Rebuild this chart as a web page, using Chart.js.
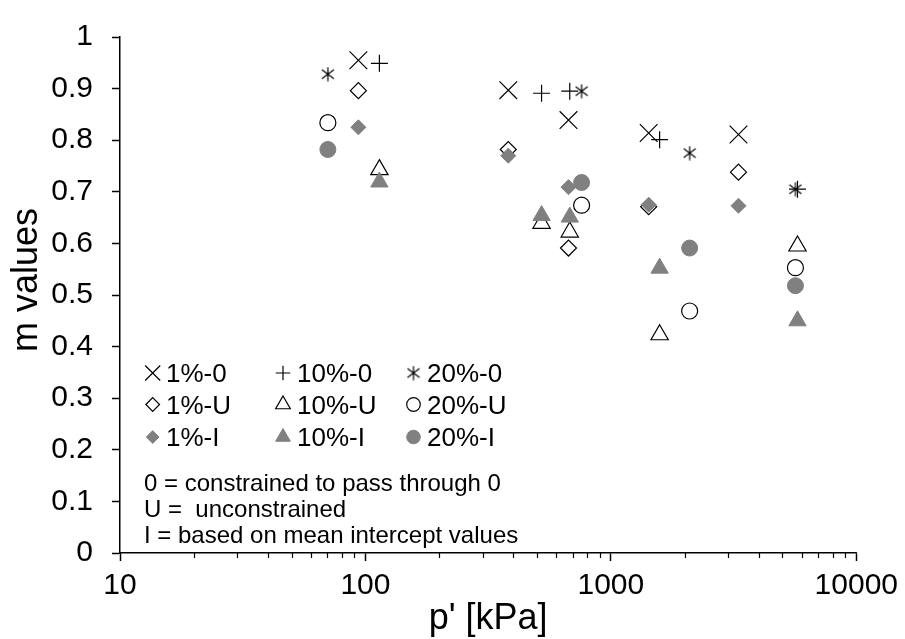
<!DOCTYPE html>
<html>
<head>
<meta charset="utf-8">
<script src="https://cdn.jsdelivr.net/npm/chart.js@4.4.1/dist/chart.umd.min.js"></script>
<style>
    html, body { margin: 0; padding: 0; background: #fff; }
    #wrap { width: 905px; height: 639px; }
</style>
</head>
<body>
<div id="wrap"><canvas id="mChart"></canvas></div>
<script>
// ========= values =========
// p' [kPa] positions used by each strain level
const p1  = [93.6, 382, 672, 1426, 3311];
const p10 = [114, 522, 680, 1580, 5760];
const p20 = [70.3, 760, 2094, 5650];

// m values per series
const m1_0  = [0.955, 0.897, 0.839, 0.814, 0.811];
const m10_0 = [0.949, 0.891, 0.895, 0.801, 0.705];
const m20_0 = [0.928, 0.895, 0.775, 0.705];

const m1_U  = [0.896, 0.782, 0.591, 0.671, 0.738];
const m10_U = [0.743, 0.639, 0.622, 0.423, 0.595];
const m20_U = [0.834, 0.674, 0.469, 0.553];

const m1_I  = [0.825, 0.770, 0.709, 0.675, 0.673];
const m10_I = [0.719, 0.654, 0.651, 0.552, 0.450];
const m20_I = [0.782, 0.718, 0.591, 0.518];

// axis ticks
const xTicks      = [10, 100, 1000, 10000];
const xMinorTicks = [20, 30, 40, 50, 60, 70, 80, 90,
                     200, 300, 400, 500, 600, 700, 800, 900,
                     2000, 3000, 4000, 5000, 6000, 7000, 8000, 9000];
const yTicks      = [0, 0.1, 0.2, 0.3, 0.4, 0.5, 0.6, 0.7, 0.8, 0.9, 1];
const yTickLabels = ["0", "0.1", "0.2", "0.3", "0.4", "0.5", "0.6", "0.7", "0.8", "0.9", "1"];

const notes = [
    "0 = constrained to pass through 0",
    "U =  unconstrained",
    "I = based on mean intercept values"
];

const GRAY = "#808080";
const FONT = "'Liberation Sans', Arial, sans-serif";

function toPoints(xs, ys) {
    return xs.map((x, i) => ({ x: x, y: ys[i] }));
}

// Excel-style asterisk: vertical bar plus two diagonals
function asteriskMarker() {
    const c = document.createElement("canvas");
    c.width = 14;
    c.height = 15;
    const g = c.getContext("2d");
    g.strokeStyle = "#000";
    g.lineWidth = 1.2;
    g.beginPath();
    g.moveTo(7, 0.5);  g.lineTo(7, 14.5);
    g.moveTo(1, 3);    g.lineTo(13, 12);
    g.moveTo(13, 3);   g.lineTo(1, 12);
    g.stroke();
    return c;
}

function series(label, xs, ys, style, radius, fill, stroke, width) {
    return {
        label: label,
        data: toPoints(xs, ys),
        pointStyle: style,
        pointRadius: radius,
        pointHoverRadius: radius,
        pointBackgroundColor: fill,
        pointBorderColor: stroke,
        pointBorderWidth: width,
        pointHoverBorderWidth: width,
        backgroundColor: fill,
        borderColor: stroke,
        showLine: false
    };
}

// ====== legend + notes drawn inside the plot ======
const legendPlugin = {
    id: "innerLegend",
    afterDraw(chart) {
        const ctx = chart.ctx;
        const colMarker = [152.7, 283, 413.5];
        const colText   = [166, 297, 427];
        const rowY      = [373, 404.5, 437];

        ctx.save();
        chart.data.datasets.forEach((ds, i) => {
            const row = Math.floor(i / 3);
            const col = i % 3;
            const y = rowY[row];
            ctx.fillStyle = ds.pointBackgroundColor;
            ctx.strokeStyle = ds.pointBorderColor;
            ctx.lineWidth = ds.pointBorderWidth;
            Chart.helpers.drawPoint(ctx, {
                pointStyle: ds.pointStyle,
                radius: ds.pointRadius * 0.85,
                rotation: 0,
                borderWidth: ds.pointBorderWidth
            }, colMarker[col], y);

            ctx.fillStyle = "#000";
            ctx.font = "26px " + FONT;
            ctx.textBaseline = "alphabetic";
            ctx.textAlign = "left";
            ctx.fillText(ds.label, colText[col], y + 9.3);
        });

        ctx.font = "24px " + FONT;
        const noteY = [482.5, 508, 534];
        notes.forEach((t, i) => ctx.fillText(t, 144, noteY[i] + 8.5));

        // minor ticks on the log axis
        const xs = chart.scales.x;
        const bottom = chart.chartArea.bottom;
        ctx.strokeStyle = "#000";
        ctx.lineWidth = 1.2;
        ctx.beginPath();
        xMinorTicks.forEach(v => {
            const px = Math.round(xs.getPixelForValue(v)) + 0.5;
            ctx.moveTo(px, bottom);
            ctx.lineTo(px, bottom + 5);
        });
        ctx.stroke();
        ctx.restore();
    }
};

document.addEventListener("DOMContentLoaded", () => {
    const star = asteriskMarker();

    const datasets = [
        series("1%-0",  p1,  m1_0,  "crossRot",  12.5, "#000", "#000", 1.2),
        series("10%-0", p10, m10_0, "cross",     8.5,  "#000", "#000", 1.2),
        series("20%-0", p20, m20_0, star,        7,    "#000", "#000", 1.2),
        series("1%-U",  p1,  m1_U,  "rectRot",   8,    "#fff", "#000", 1.2),
        series("10%-U", p10, m10_U, "triangle",  10,   "#fff", "#000", 1.2),
        series("20%-U", p20, m20_U, "circle",    8,    "#fff", "#000", 1.2),
        series("1%-I",  p1,  m1_I,  "rectRot",   7.5,  GRAY,   GRAY,   1),
        series("10%-I", p10, m10_I, "triangle",  10,   GRAY,   GRAY,   1),
        series("20%-I", p20, m20_I, "circle",    8,    GRAY,   GRAY,   1)
    ];
    // later series sit on top, as in the original
    datasets.forEach((ds, i) => { ds.order = datasets.length - i; });

    Chart.defaults.color = "#000";
    Chart.defaults.font.family = FONT;

    new Chart(document.getElementById("mChart"), {
        type: "scatter",
        data: { datasets: datasets },
        options: {
            responsive: true,
            maintainAspectRatio: false,
            animation: false,
            events: [],
            layout: { padding: { top: 21.5, right: 46, bottom: 0, left: 0 } },
            plugins: {
                legend: { display: false },
                tooltip: { enabled: false }
            },
            scales: {
                x: {
                    type: "logarithmic",
                    min: 10,
                    max: 10000,
                    afterBuildTicks: (s) => { s.ticks = xTicks.map(v => ({ value: v, major: true })); },
                    afterFit: (s) => { s.height = 86; },
                    ticks: {
                        autoSkip: false,
                        maxRotation: 0,
                        padding: 7,
                        font: { size: 30, lineHeight: 1.2 },
                        callback: (v) => String(v)
                    },
                    grid: {
                        drawOnChartArea: false,
                        tickLength: 8,
                        tickColor: "#000",
                        tickWidth: 1.5
                    },
                    border: { display: true, color: "#000", width: 1.5 },
                    title: {
                        display: true,
                        text: "p' [kPa]",
                        font: { size: 36, lineHeight: 1 },
                        padding: { top: 0, bottom: 2 }
                    }
                },
                y: {
                    type: "linear",
                    min: 0,
                    max: 1,
                    afterBuildTicks: (s) => { s.ticks = yTicks.map(v => ({ value: v })); },
                    afterFit: (s) => { s.width = 120; },
                    ticks: {
                        padding: 19,
                        font: { size: 30, lineHeight: 1.2 },
                        callback: (v, i) => yTickLabels[i]
                    },
                    grid: {
                        drawOnChartArea: false,
                        tickLength: 8,
                        tickColor: "#000",
                        tickWidth: 1.5
                    },
                    border: { display: true, color: "#000", width: 1.5 },
                    title: {
                        display: true,
                        text: "   m values",
                        font: { size: 36, lineHeight: 1 },
                        padding: { top: 9, bottom: 0 }
                    }
                }
            }
        },
        plugins: [legendPlugin]
    });
});
</script>
</body>
</html>
